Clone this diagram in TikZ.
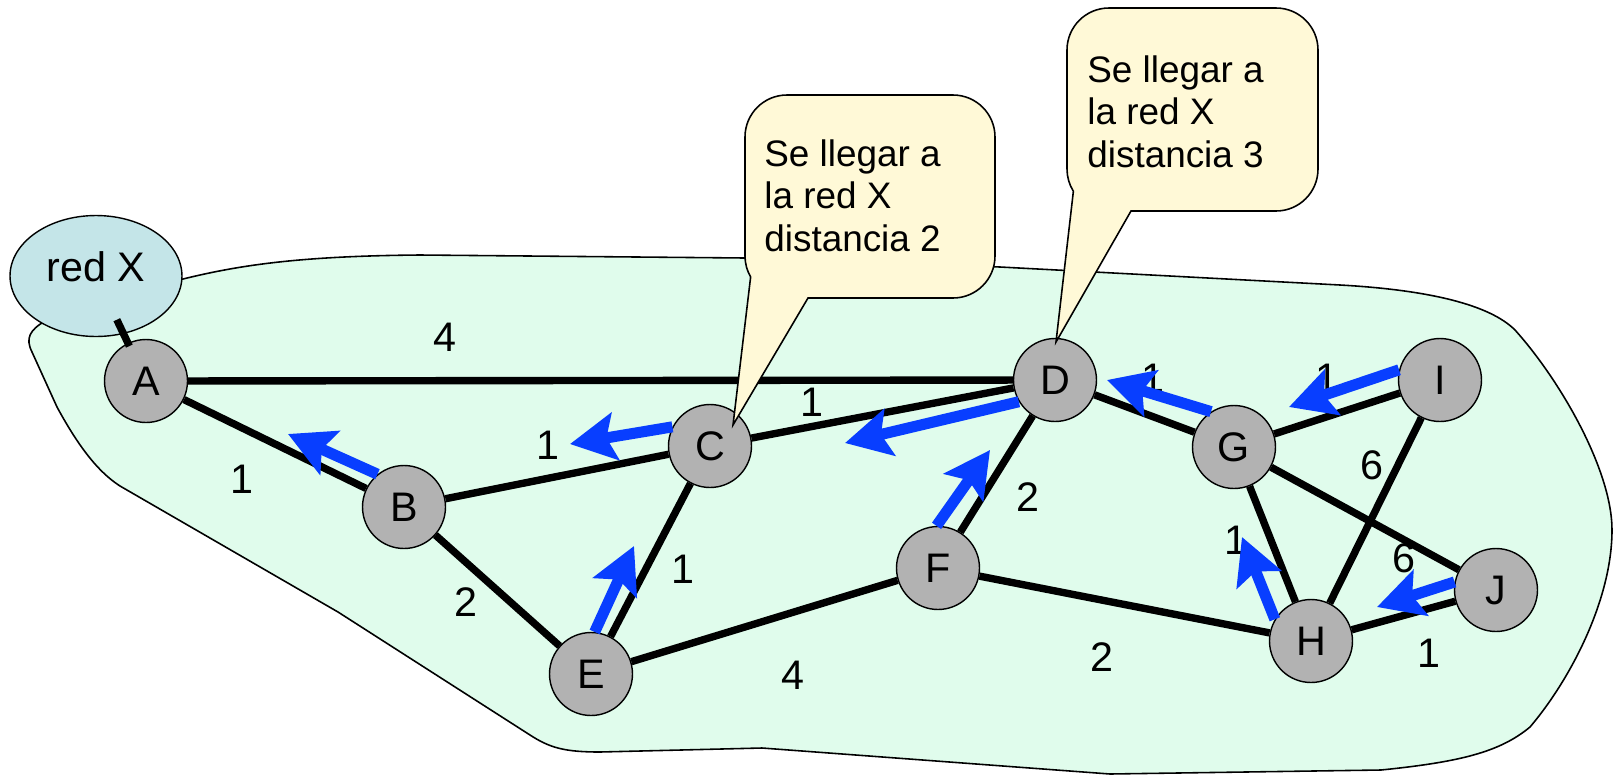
\documentclass[tikz,border=0pt]{standalone}
\usepackage{fontspec}
\setmainfont{Liberation Sans}
\usetikzlibrary{arrows.meta,shapes.geometric}

\definecolor{zonegreen}{RGB}{224,252,236}
\definecolor{netblue}{RGB}{196,229,232}
\definecolor{routergray}{RGB}{178,178,178}
\definecolor{notefill}{RGB}{255,249,215}
\definecolor{routeblue}{RGB}{8,62,255}

\begin{document}
\begin{tikzpicture}[x=0.02cm, y=-0.02cm,
  router/.style={circle, draw=black, line width=0.8pt, fill=routergray,
    minimum size=1.66cm, inner sep=0pt, font=\fontsize{23.5}{28}\selectfont},
  netx/.style={ellipse, draw=black, line width=0.8pt, fill=netblue,
    minimum width=3.44cm, minimum height=2.42cm, inner sep=0pt,
    text depth=11pt, font=\fontsize{23.5}{28}\selectfont},
  edge/.style={line width=4.2pt, black},
  weight/.style={inner sep=0pt, font=\fontsize{23.5}{28}\selectfont},
  route/.style={routeblue, line width=6.3pt,
    -{Stealth[length=26pt, width=27pt, inset=5pt]}},
  zone/.style={draw=black, line width=0.9pt, fill=zonegreen},
  bubble/.style={draw=black, line width=0.9pt, fill=notefill},
  note/.style={anchor=north west, align=left, inner sep=0pt,
    font=\fontsize{21}{24.3}\selectfont}]

  % Fix the page to the size of the picture
  \useasboundingbox (0,0) rectangle (1614,775);

  % Draw the area of the routers
  \draw[zone] (183,279) .. controls (240,265) and (300,256) .. (420,255)
    -- (745,258) -- (1000,267) -- (1340,285)
    .. controls (1430,290) and (1490,305) .. (1515,330)
    .. controls (1560,380) and (1612,470) .. (1612,530)
    .. controls (1612,600) and (1570,680) .. (1530,727)
    .. controls (1500,752) and (1460,762) .. (1381,770)
    -- (1110,774) -- (762,748) -- (600,752)
    .. controls (565,752) and (550,748) .. (530,735)
    -- (338,612) -- (120,486)
    .. controls (95,470) and (75,440) .. (57,407)
    -- (32,352) .. controls (25,338) and (30,330) .. (45,321)
    -- cycle;

  % The network X
  \node[netx] (redx) at (96,276) {red X};

  % The routers
  \node[router] (A) at (146,381) {A};
  \node[router] (B) at (404,507) {B};
  \node[router] (C) at (710,446) {C};
  \node[router] (D) at (1055,380) {D};
  \node[router] (E) at (591,674) {E};
  \node[router] (F) at (938,568) {F};
  \node[router] (G) at (1234,447) {G};
  \node[router] (H) at (1311,641) {H};
  \node[router] (I) at (1440,380) {I};
  \node[router] (J) at (1496,590) {J};

  % Draw the links
  \draw[edge, shorten <=-9pt, shorten >=-2pt] (redx) -- (A);
  \draw[edge] (A) -- (D);
  \draw[edge] (A) -- (B);
  \draw[edge] (B) -- (C);
  \draw[edge] (B) -- (E);
  \draw[edge] (C) -- (E);
  \draw[edge] (C) -- (D);
  \draw[edge] (D) -- (F);
  \draw[edge] (E) -- (F);
  \draw[edge] (F) -- (H);
  \draw[edge] (D) -- (G);
  \draw[edge] (G) -- (I);
  \draw[edge] (G) -- (H);
  \draw[edge] (I) -- (H);
  \draw[edge] (G) -- (J);
  \draw[edge] (H) -- (J);

  % Costs of the links
  \node[weight] (wAD) at (445,337) {4};
  \node[weight] (wAB) at (242,479) {1};
  \node[weight] (wBC) at (548,445) {1};
  \node[weight] (wBE) at (466,602) {2};
  \node[weight] (wCE) at (683,569) {1};
  \node[weight] (wCD) at (812,402) {1};
  \node[weight] (wDF) at (1028,497) {2};
  \node[weight] (wEF) at (793,675) {4};
  \node[weight] (wFH) at (1102,657) {2};
  \node[weight] (wDG) at (1153,378) {1};
  \node[weight] (wGI) at (1327,378) {1};
  \node[weight] (wGH) at (1236,540) {1};
  \node[weight] (wIH) at (1372,465) {6};
  \node[weight] (wGJ) at (1404,558) {6};
  \node[weight] (wHJ) at (1429,653) {1};

  % Ends of the routes towards the network X
  \coordinate (tB) at (288,434);
  \coordinate (tC) at (570,444);
  \coordinate (tE) at (634,546);
  \coordinate (tD) at (845,443);
  \coordinate (tF) at (990,450);
  \coordinate (tG) at (1107,380);
  \coordinate (tI) at (1289,407);
  \coordinate (tH) at (1242,537);
  \coordinate (tJ) at (1377,607);

  % Draw the routes
  \draw[route] (B.129) -- (tB);
  \draw[route] (C.153) -- (tC);
  \draw[route] (E.85) -- (tE);
  \draw[route] (D.211) -- (tD);
  \draw[route] (F.92) -- (tF);
  \draw[route] (G.123) -- (tG);
  \draw[route] (I.166) -- (tI);
  \draw[route] (H.149) -- (tH);
  \draw[route] (J.169) -- (tJ);

  % Callout pointing at C
  \draw[bubble] (808,298) -- (953,298) arc[start angle=90, end angle=0, radius=42]
    -- (995,137) arc[start angle=0, end angle=-90, radius=42]
    -- (787,95) arc[start angle=270, end angle=180, radius=42]
    -- (745,256) arc[start angle=180, end angle=150, radius=42]
    -- (733,425) -- cycle;
  \node[note] (noteC) at (764,139) {Se llegar a\\la red X\\distancia 2};

  % Callout pointing at D
  \draw[bubble] (1131,211) -- (1276,211) arc[start angle=90, end angle=0, radius=42]
    -- (1318,50) arc[start angle=0, end angle=-90, radius=42]
    -- (1109,8) arc[start angle=270, end angle=180, radius=42]
    -- (1067,169) arc[start angle=180, end angle=148, radius=42]
    -- (1056,342) -- cycle;
  \node[note] (noteD) at (1087,55) {Se llegar a\\la red X\\distancia 3};

\end{tikzpicture}
\end{document}
